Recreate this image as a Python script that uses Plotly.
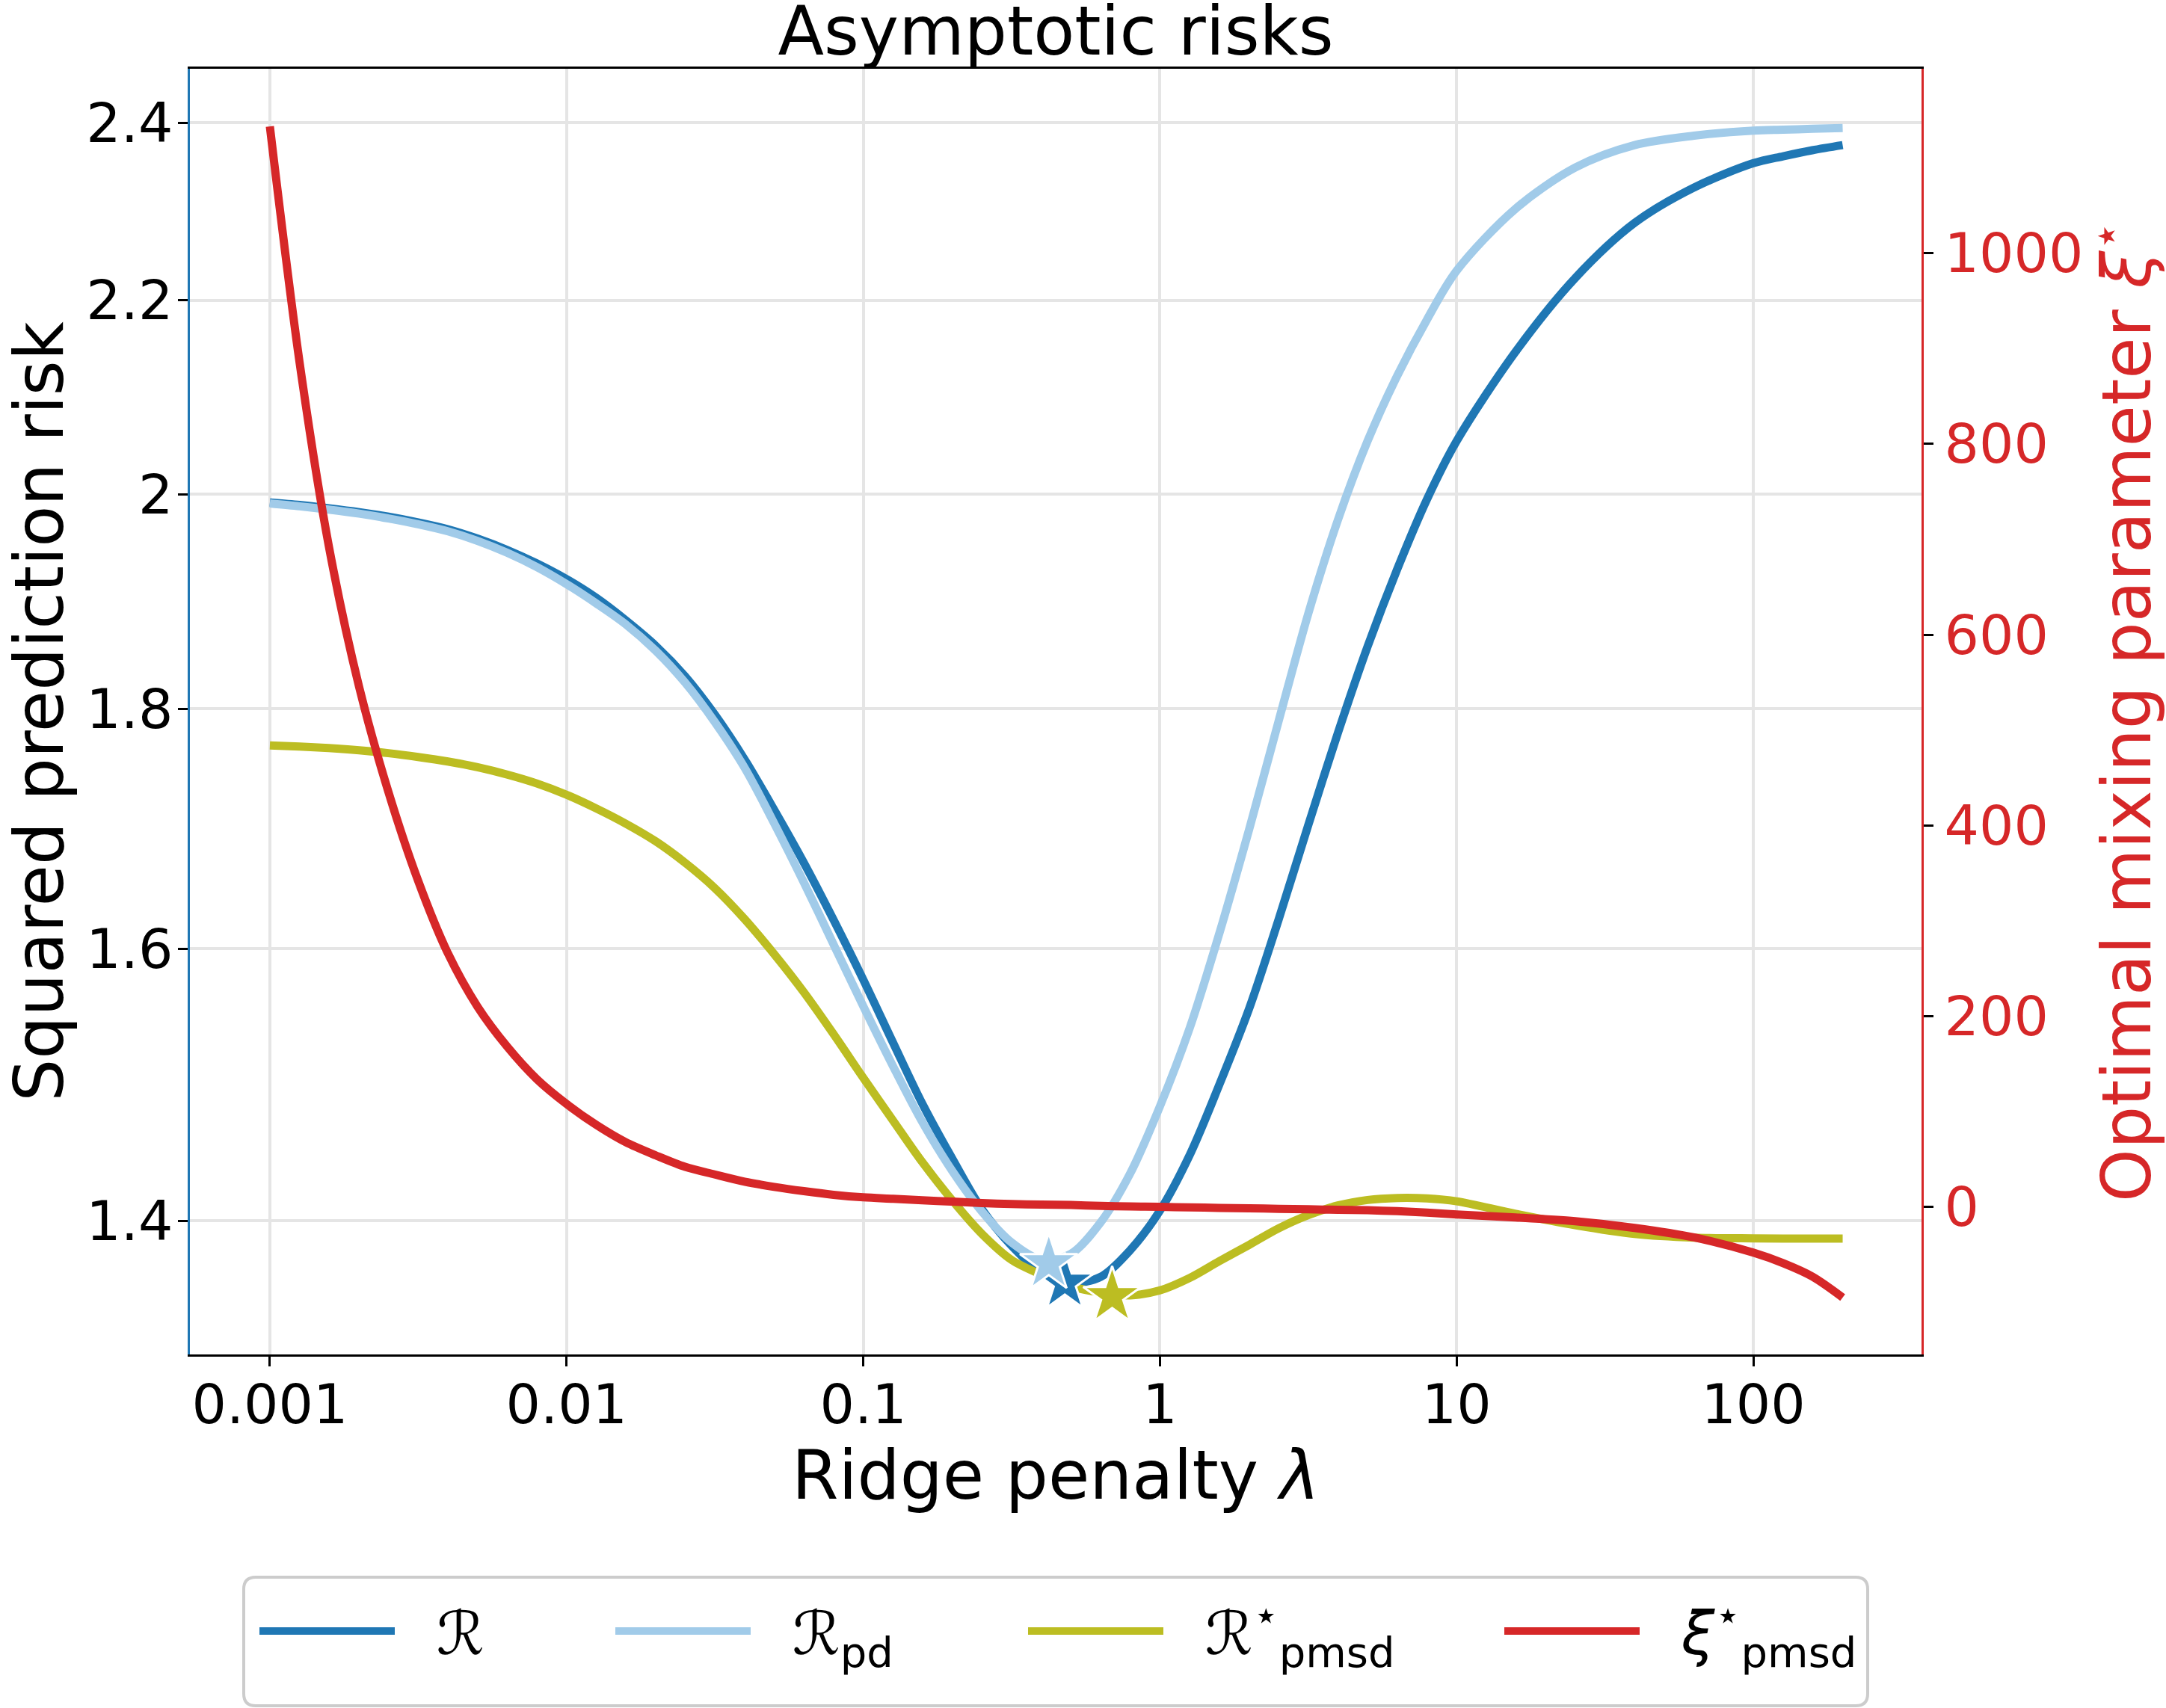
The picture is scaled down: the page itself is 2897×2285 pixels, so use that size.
import plotly.graph_objects as go

# ---------------- data ----------------
lam = [0.001, 0.00126, 0.00158, 0.002, 0.00251, 0.00316, 0.00398, 0.00501, 0.00631, 0.00794,
       0.01, 0.0126, 0.0158, 0.02, 0.0251, 0.0316, 0.0398, 0.0501, 0.0631, 0.0794,
       0.1, 0.126, 0.158, 0.2, 0.251, 0.316, 0.398, 0.501, 0.631, 0.794,
       1.0, 1.26, 1.58, 2.0, 2.51, 3.16, 3.98, 5.01, 6.31, 7.94,
       10, 15.8, 25.1, 39.8, 63.1, 100, 126, 158, 200]

risk_R = [1.992, 1.9896, 1.9864, 1.9826, 1.9781, 1.9726, 1.966, 1.957, 1.9461, 1.9333,
          1.9184, 1.9008, 1.8802, 1.8565, 1.829, 1.795, 1.756, 1.713, 1.669, 1.623,
          1.576, 1.528, 1.483, 1.443, 1.408, 1.383, 1.365, 1.358, 1.362, 1.380,
          1.407, 1.446, 1.496, 1.554, 1.623, 1.700, 1.779, 1.856, 1.928, 1.995,
          2.053, 2.145, 2.224, 2.285, 2.325, 2.353, 2.361, 2.368, 2.374]

risk_pd = [1.991, 1.9882, 1.985, 1.9811, 1.9764, 1.9708, 1.964, 1.9548, 1.9434, 1.9298,
           1.9137, 1.8956, 1.8765, 1.852, 1.8233, 1.7884, 1.7488, 1.7017, 1.6529, 1.6035,
           1.5556, 1.5104, 1.4697, 1.4344, 1.4065, 1.3852, 1.3736, 1.3775, 1.3989, 1.433,
           1.481, 1.539, 1.611, 1.697, 1.789, 1.886, 1.975, 2.053, 2.120, 2.179,
           2.232, 2.301, 2.348, 2.374, 2.385, 2.391, 2.392, 2.393, 2.394]

risk_pmsd = [1.768, 1.767, 1.7657, 1.7638, 1.7613, 1.758, 1.7541, 1.7492, 1.7429, 1.7353,
             1.7257, 1.7141, 1.7015, 1.6866, 1.669, 1.6484, 1.6236, 1.5958, 1.5662, 1.5344,
             1.5018, 1.4706, 1.441, 1.4139, 1.3911, 1.3734, 1.3635, 1.3557, 1.3516, 1.3497,
             1.3530, 1.3613, 1.3724, 1.3836, 1.3948, 1.4039, 1.4106, 1.4144, 1.4158, 1.4155,
             1.4135, 1.4048, 1.397, 1.391, 1.3885, 1.388, 1.3879, 1.3879, 1.3879]

xi_pmsd = [1133, 885, 693, 545, 435, 342, 266, 210, 168, 134,
           108, 86, 68, 54, 42, 34, 26.5, 21, 16.5, 12.7,
           10, 8.5, 7, 5.5, 4, 3, 2.5, 2, 1, 0.5,
           0, -0.5, -1, -1.5, -2, -2.5, -3, -3.5, -4.5, -6,
           -8, -11, -15, -22, -32, -48, -59, -73, -95]

# minimisers (star markers): R, R_pd, R_pmsd
star_lam = [0.478, 0.422, 0.690]
star_risk = [1.358, 1.371, 1.349]

x_tickvals = [0.001, 0.01, 0.1, 1, 10, 100]
x_ticktext = ["0.001", "0.01", "0.1", "1", "10", "100"]
y_tickvals = [1.4, 1.6, 1.8, 2.0, 2.2, 2.4]
y_ticktext = ["1.4", "1.6", "1.8", "2", "2.2", "2.4"]
y2_tickvals = [0, 200, 400, 600, 800, 1000]

names = ["ℛ", "ℛ<sub>pd</sub>", "ℛ<sup>⋆</sup><sub>pmsd</sub>", "<i>ξ</i><sup>⋆</sup><sub>pmsd</sub>"]

# ---------------- style ----------------
BLUE = "#1f77b4"
LIGHT = "#a1cbe9"
OLIVE = "#bcbd22"
RED = "#d62728"
FONT = "DejaVu Sans"
LW = 11
GRID = "#e5e5e5"
NB = "\u00a0\u00a0"
SMOOTH = 0.9

PLOT_L, PLOT_R, PLOT_T, PLOT_B = 254, 2570, 92, 1812
PW, PH = PLOT_R - PLOT_L, PLOT_B - PLOT_T


def px_x(xf):
    return (xf - PLOT_L) / PW


def px_y(yf):
    return (PLOT_B - yf) / PH


fig = go.Figure()

legend_ids = ["legend", "legend2", "legend3", "legend4"]
series = [(risk_R, BLUE), (risk_pd, LIGHT), (risk_pmsd, OLIVE)]
for i, (vals, col) in enumerate(series):
    fig.add_trace(go.Scatter(x=lam, y=vals, mode="lines", name=NB + names[i],
                             legend=legend_ids[i],
                             line=dict(color=col, width=LW, shape="spline", smoothing=SMOOTH),
                             yaxis="y"))

for i, (vals, col) in enumerate(series):
    fig.add_trace(go.Scatter(x=[star_lam[i]], y=[star_risk[i]], mode="markers", showlegend=False,
                             marker=dict(symbol="star", size=58, color=col,
                                         line=dict(color="white", width=3)),
                             yaxis="y"))

fig.add_trace(go.Scatter(x=lam, y=xi_pmsd, mode="lines", name=NB + names[3],
                         legend=legend_ids[3],
                         line=dict(color=RED, width=LW, shape="spline", smoothing=SMOOTH),
                         yaxis="y2"))

# legend frame (single box around the four legend entries)
x0, x1 = px_x(326), px_x(2498)
y0, y1 = px_y(2282), px_y(2110)
rx, ry = 16 / PW, 16 / PH
frame_path = (f"M{x0+rx},{y1} L{x1-rx},{y1} Q{x1},{y1} {x1},{y1-ry} L{x1},{y0+ry} "
              f"Q{x1},{y0} {x1-rx},{y0} L{x0+rx},{y0} Q{x0},{y0} {x0},{y0+ry} "
              f"L{x0},{y1-ry} Q{x0},{y1} {x0+rx},{y1} Z")

legend_starts = [350, 826, 1378, 2015]
legend_cfg = {}
for lid, xs in zip(legend_ids, legend_starts):
    legend_cfg[lid] = dict(x=px_x(xs - 8), xanchor="left", xref="paper",
                           y=px_y(2182), yanchor="middle", yref="paper",
                           orientation="h",
                           font=dict(family=FONT, size=80, color="black"),
                           itemwidth=181, borderwidth=0, bgcolor="rgba(0,0,0,0)")

fig.update_layout(
    template="none",
    width=2897, height=2285,
    margin=dict(l=PLOT_L, r=2897 - PLOT_R, t=PLOT_T, b=2285 - PLOT_B),
    paper_bgcolor="white", plot_bgcolor="white",
    font=dict(family=FONT, size=73, color="black"),
    title=dict(text="Asymptotic risks", font=dict(family=FONT, size=90, color="black"),
               x=0.5, xref="paper", xanchor="center",
               y=1 - 41 / 2285, yref="container", yanchor="middle"),
    xaxis=dict(type="log", range=[-3.2695, 2.5668],
               tickvals=x_tickvals, ticktext=x_ticktext,
               ticks="outside", ticklen=13, tickwidth=3, tickcolor="black",
               tickfont=dict(size=73, color="black"), ticklabelstandoff=-12,
               showline=True, linecolor="black", linewidth=3, mirror=True,
               showgrid=True, gridcolor=GRID, gridwidth=3.5, zeroline=False,
               title=dict(text="Ridge penalty <i>λ</i>", font=dict(size=90, color="black"),
                          standoff=20)),
    yaxis=dict(type="log", range=[0.11764, 0.39175],
               tickvals=y_tickvals, ticktext=y_ticktext,
               ticks="outside", ticklen=13, tickwidth=3, tickcolor="black",
               tickfont=dict(size=73, color="black"), ticklabelstandoff=-8,
               showline=True, linecolor=BLUE, linewidth=3,
               showgrid=True, gridcolor=GRID, gridwidth=3.5, zeroline=False,
               title=dict(text="Squared prediction risk", font=dict(size=90, color="black"),
                          standoff=48)),
    yaxis2=dict(overlaying="y", side="right", range=[-154.7, 1193.4],
                tickvals=y2_tickvals,
                ticks="outside", ticklen=13, tickwidth=3, tickcolor="black",
                tickfont=dict(size=73, color=RED),
                showline=True, linecolor=RED, linewidth=3,
                showgrid=False, zeroline=False,
                title=dict(text="Optimal mixing parameter <i>ξ</i><sup>⋆</sup>",
                           font=dict(size=90, color=RED), standoff=20)),
    shapes=[dict(type="path", path=frame_path, xref="paper", yref="paper",
                 line=dict(color="#cccccc", width=4), fillcolor="white", layer="below")],
    **legend_cfg,
)

fig.write_html("out.html")
